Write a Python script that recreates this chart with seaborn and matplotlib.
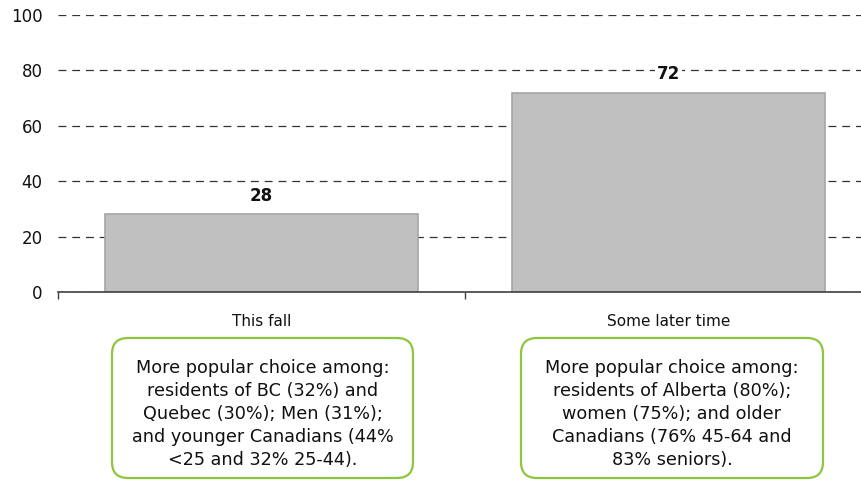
import matplotlib
matplotlib.use("Agg")
import matplotlib.pyplot as plt
import seaborn as sns
import pandas as pd
from matplotlib.patches import FancyBboxPatch

categories = ["This fall", "Some later time"]
values = [28, 72]
notes = [
    "More popular choice among:\nresidents of BC (32%) and\nQuebec (30%); Men (31%);\nand younger Canadians (44%\n<25 and 32% 25-44).",
    "More popular choice among:\nresidents of Alberta (80%);\nwomen (75%); and older\nCanadians (76% 45-64 and\n83% seniors).",
]
y_ticks = [0, 20, 40, 60, 80, 100]

sns.set_style("white")
plt.rcParams["font.family"] = ["DejaVu Sans"]

W, H = 861, 480
fig = plt.figure(figsize=(W / 100, H / 100), dpi=100)
ax = fig.add_axes([58 / W, (H - 292) / H, (872 - 58) / W, (292 - 15) / H])

df = pd.DataFrame({"cat": categories, "val": values})
sns.barplot(data=df, x="cat", y="val", color="#c0c0c0", edgecolor="#a6a6a6",
            linewidth=1.2, width=0.77, saturation=1, ax=ax, zorder=3)

ax.set_xlim(-0.5, 1.5)
ax.set_ylim(0, 100)
ax.set_yticks(y_ticks)
ax.set_xlabel("")
ax.set_ylabel("")

# dashed horizontal grid
ax.yaxis.grid(True, linestyle=(0, (6.3, 4.7)), color="#333333", linewidth=0.9, zorder=0)
ax.xaxis.grid(False)
ax.set_axisbelow(True)

for s in ["left", "right", "top"]:
    ax.spines[s].set_visible(False)
ax.spines["bottom"].set_color("#404040")
ax.spines["bottom"].set_linewidth(1.2)
ax.spines["bottom"].set_zorder(4)

ax.tick_params(axis="y", length=0, pad=11, labelsize=12, labelcolor="#111111")
ax.tick_params(axis="x", which="major", bottom=True, length=0, pad=16, labelsize=11,
               labelcolor="#111111")
ax.set_xticks([-0.5, 0.5, 1.5], minor=True)
ax.tick_params(axis="x", which="minor", bottom=True, length=5, width=1, color="#404040",
               direction="out")

for c in ax.containers:
    ax.bar_label(c, labels=[str(v) for v in values], padding=7,
                 fontsize=12, fontweight="bold", color="#111111",
                 bbox=dict(facecolor="white", edgecolor="none", pad=1.5))

# note boxes under the bars
ov = fig.add_axes([0, 0, 1, 1], zorder=5)
ov.set_xlim(0, W)
ov.set_ylim(H, 0)
ov.axis("off")
boxes = [(112, 413), (521, 823)]
for (x0, x1), txt in zip(boxes, notes):
    ov.add_patch(FancyBboxPatch((x0, 338), x1 - x0, 140,
                                boxstyle="round,pad=0,rounding_size=16",
                                facecolor="white", edgecolor="#8cc63e", linewidth=1.6))
    ov.text((x0 + x1) / 2, 414, txt, ha="center", va="center", fontsize=12.7,
            linespacing=1.36, color="#111111")

fig.savefig("out.png", dpi=100)
